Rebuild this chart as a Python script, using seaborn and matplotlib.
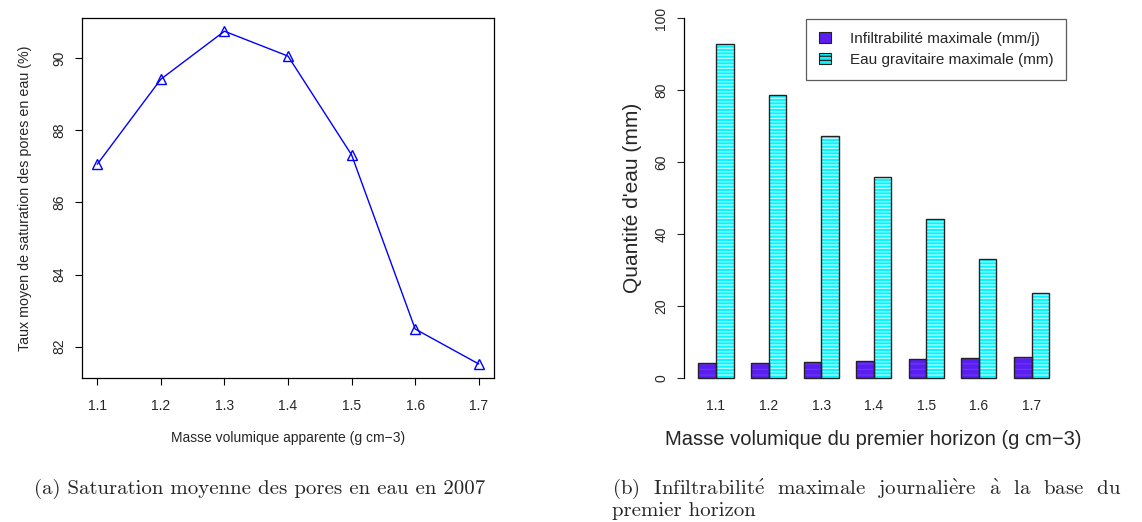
import numpy as np
import pandas as pd
import seaborn as sns
from matplotlib import pyplot as plt
from matplotlib.patches import Patch

# left panel: mean pore saturation vs bulk density
densite = [1.1, 1.2, 1.3, 1.4, 1.5, 1.6, 1.7]
saturation = [87.06, 89.42, 90.75, 90.06, 87.32, 82.49, 81.52]

# right panel: grouped bars
classes = ["1.1", "1.2", "1.3", "1.4", "1.5", "1.6", "1.7"]
infiltrabilite = [4.26, 4.26, 4.35, 4.8, 5.2, 5.65, 5.9]
eau_gravitaire = [92.9, 78.7, 67.3, 55.8, 44.3, 33.0, 23.5]
series_names = ["Infiltrabilité maximale (mm/j)", "Eau gravitaire maximale (mm)"]

sns.set_theme(style="white")
plt.rcParams['font.family'] = ['Liberation Sans', 'DejaVu Sans']
plt.rcParams['hatch.linewidth'] = 0.9
plt.rcParams['mathtext.fontset'] = 'cm'

fig = plt.figure(figsize=(11.42, 5.22), dpi=100)

# ---- (a) line plot
ax1 = fig.add_axes([0.0718, 0.2759, 0.3608, 0.6897])
sns.lineplot(x=densite, y=saturation, ax=ax1, color="blue", linewidth=1.0,
             marker="^", markersize=7, markerfacecolor="none",
             markeredgecolor="blue", markeredgewidth=1.0)
ax1.set_xlim(1.076, 1.724)
ax1.set_ylim(81.132, 91.118)
ax1.set_xticks(densite)
ax1.set_xticklabels([f"{d:.1f}" for d in densite])
ax1.set_yticks([82, 84, 86, 88, 90])
for lab in ax1.get_yticklabels():
    lab.set_rotation(90)
    lab.set_va("center")
ax1.tick_params(axis="both", direction="out", length=5, width=0.8,
                labelsize=10, color="black", bottom=True, left=True)
ax1.tick_params(axis="x", pad=10)
ax1.tick_params(axis="y", pad=6)
for s in ax1.spines.values():
    s.set_color("black")
    s.set_linewidth(0.9)
ax1.set_xlabel("Masse volumique apparente (g cm−3)", fontsize=10, labelpad=13)
ax1.set_ylabel("Taux moyen de saturation des pores en eau (%)", fontsize=10.3, labelpad=15)

# ---- (b) grouped bar plot
df = pd.DataFrame({
    "classe": classes * 2,
    "valeur": infiltrabilite + eau_gravitaire,
    "serie": [series_names[0]] * 7 + [series_names[1]] * 7,
})
pal = {series_names[0]: "#5a1ef0", series_names[1]: "#08f4ff"}

ax2 = fig.add_axes([0.5987, 0.2483, 0.3328, 0.7448])
sns.barplot(data=df, x="classe", y="valeur", hue="serie", palette=pal,
            width=2 / 3, saturation=1, ax=ax2, legend=False,
            edgecolor="white", linewidth=0)
# light stripes (hatch takes the edge colour, edge itself has zero width)
for bar in ax2.containers[1]:
    bar.set_edgecolor("#b8ffff")
    bar.set_hatch("-----")
for bar in ax2.containers[0]:
    bar.set_edgecolor("#6a38f4")
    bar.set_hatch("---")
# outlines
sns.barplot(data=df, x="classe", y="valeur", hue="serie", width=2 / 3,
            fill=False, ax=ax2, legend=False, edgecolor="#222222",
            linewidth=1.0, palette=["#222222", "#222222"])

ax2.set_xlim(-0.6133, 6.6133)
ax2.set_ylim(-4, 104)
ax2.set_yticks([0, 20, 40, 60, 80, 100])
for lab in ax2.get_yticklabels():
    lab.set_rotation(90)
    lab.set_va("center")
for side in ["top", "right", "bottom"]:
    ax2.spines[side].set_visible(False)
ax2.spines["left"].set_bounds(0, 100)
ax2.spines["left"].set_color("black")
ax2.spines["left"].set_linewidth(0.9)
ax2.tick_params(axis="y", direction="out", length=5, width=0.8,
                labelsize=10, left=True, pad=6)
ax2.tick_params(axis="x", length=0, labelsize=10, pad=5)
ax2.set_xlabel("Masse volumique du premier horizon (g cm−3)", fontsize=14.5, labelpad=12)
ax2.set_ylabel("Quantité d'eau (mm)", fontsize=15, labelpad=9)

handles = [
    Patch(facecolor="#5a1ef0", edgecolor="#222222", linewidth=0.8),
    Patch(facecolor="#08f4ff", edgecolor="#222222", linewidth=0.8, hatch="----"),
]
leg = ax2.legend(handles, series_names, loc="upper right",
                 bbox_to_anchor=(1.027, 0.981), fontsize=11, frameon=True,
                 fancybox=False, edgecolor="#333333", handlelength=0.8,
                 handleheight=0.8, handletextpad=1.2, borderpad=0.85,
                 labelspacing=0.45)
leg.get_frame().set_linewidth(0.9)

# captions (Computer Modern look; accents through mathtext)
cap = dict(fontsize=15, family=["cmr10", "DejaVu Serif"], va="baseline")
e_aigu = r"$\acute{\mathrm{e}}$"
e_grave = r"$\grave{\mathrm{e}}$"
a_grave = r"$\grave{\mathrm{a}}$"
ligne_b = "  ".join(["(b)", f"Infiltrabilit{e_aigu}", "maximale",
                     f"journali{e_grave}re", a_grave, "la", "base", "du"])
fig.text(34 / 1142, 1 - 494 / 522, "(a) Saturation moyenne des pores en eau en 2007", **cap)
fig.text(612 / 1142, 1 - 494 / 522, ligne_b, **cap)
fig.text(612 / 1142, 1 - 516 / 522, "premier horizon", **cap)

fig.savefig("out.png", dpi=100)
